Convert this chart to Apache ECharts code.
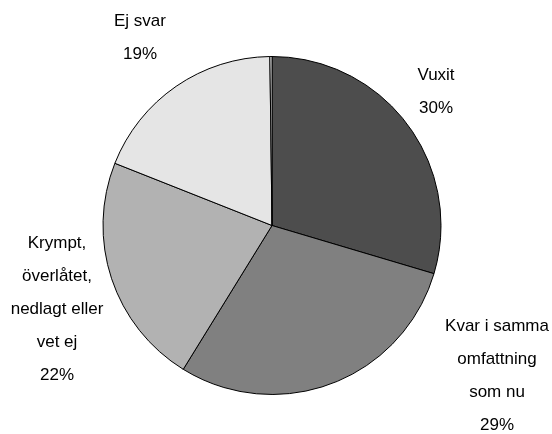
<!DOCTYPE html>
<html>
<head>
<meta charset="utf-8">
<script src="https://cdn.jsdelivr.net/npm/echarts@6/dist/echarts.min.js"></script>
<style>
html,body{margin:0;padding:0;background:#fff;}
#main{width:552px;height:434px;}
</style>
</head>
<body>
<div id="main"></div>
<script>
// slices clockwise from 12 o'clock
var names = ['Vuxit', 'Kvar i samma\nomfattning\nsom nu', 'Krympt,\növerlåtet,\nnedlagt eller\nvet ej', 'Ej svar', ''];
var values = [29.6, 29.2, 22.2, 18.8, 0.2];
var shown = ['30%', '29%', '22%', '19%', ''];
var colors = ['#4d4d4d', '#808080', '#b2b2b2', '#e5e5e5', '#ffffff'];

// label anchor points (layout only)
var labelPos = [[436, 92], [497, 376], [57, 309], [140, 38], [272, 40]];

function toPieData(){
	var d=[];
	for(var i=0;i<values.length;i++){
		d.push({
			value:values[i],
			name:names[i],
			itemStyle:{color:colors[i]},
			label:{show: names[i] !== ''}
		});
	}
	return d;
}

var chart = echarts.init(document.getElementById('main'));
var option = {
	backgroundColor:'#fff',
	animation:false,
	series:[
		{
			type:'pie',
			center:[272, 225.5],
			radius:[0, 169],
			startAngle:90,
			clockwise:true,
			avoidLabelOverlap:false,
			itemStyle:{borderColor:'#000', borderWidth:1},
			label:{
				position:'outside',
				fontFamily:'"Liberation Sans", Arial, sans-serif',
				fontSize:17,
				lineHeight:33,
				color:'#000',
				align:'center',
				formatter:function(p){
					return p.name + '\n' + shown[p.dataIndex];
				}
			},
			labelLine:{show:false},
			labelLayout:function(p){
				var xy = labelPos[p.dataIndex];
				return {x:xy[0], y:xy[1], align:'center', verticalAlign:'middle'};
			},
			emphasis:{disabled:true},
			data:toPieData()
		}
	]
};
chart.setOption(option);
</script>
</body>
</html>
